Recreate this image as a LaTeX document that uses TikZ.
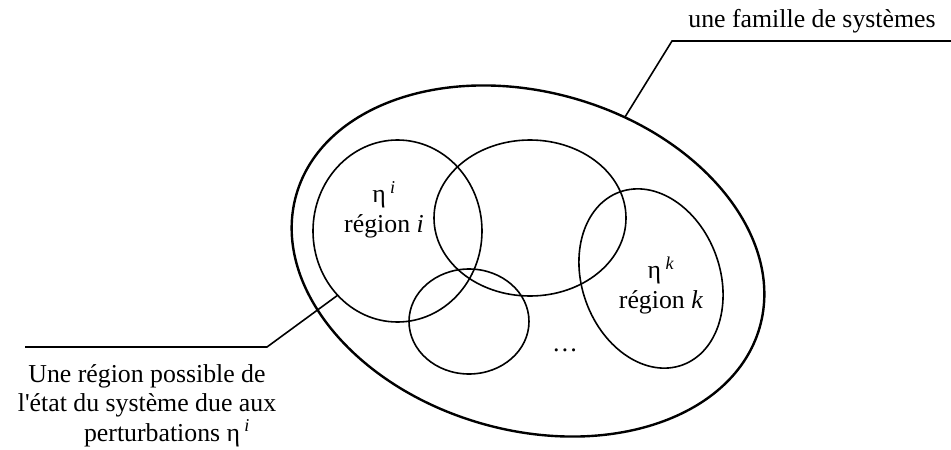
\documentclass[tikz,border=0pt]{standalone}
\usepackage{fontspec}
\setmainfont{Liberation Serif}
\begin{document}
\begin{tikzpicture}[x=1pt,y=-1pt,
  thinline/.style={line width=1.6pt},
  thickline/.style={line width=2.4pt},
  lbl/.style={inner sep=0pt,font=\fontsize{25.8}{29.5}\selectfont,align=center}]
\useasboundingbox (0,0) rectangle (951,450);
% outer family
\draw[thickline, rotate around={-16:(528,261)}] (528,261) ellipse [x radius=241pt, y radius=169pt];
% regions
\draw[thinline] (397.5,231) ellipse [x radius=84.5pt, y radius=91pt];
\draw[thinline] (530,218) ellipse [x radius=96pt, y radius=78pt];
\draw[thinline] (469,321.5) ellipse [x radius=60pt, y radius=52.5pt];
\draw[thinline, rotate around={20:(651,278.5)}] (651,278.5) ellipse [x radius=69pt, y radius=92pt];
% labels (base = baseline of last line)
\node[lbl, anchor=base] (ri) at (384,232) {η\,\textsuperscript{\textit{i}}\\région \textit{i}};
\node[lbl, anchor=base] (rk) at (661,308) {η\,\textsuperscript{\textit{k}}\\région \textit{k}};
\node[lbl, anchor=base] (dots) at (565,351) {\dots};
\node[lbl, anchor=base] (fam) at (812,27) {une famille de systèmes};
\node[lbl, anchor=base] (poss) at (147,441) {Une région possible de\\l\textquotesingle état du système due aux\\\hspace*{40pt}perturbations η\,\textsuperscript{\textit{i}}};
% leaders
\coordinate (famtouch) at (625,117);
\coordinate (famknee) at (672,41);
\coordinate (famend) at (951,41);
\draw[thinline] (famtouch) -- (famknee) -- (famend);
\coordinate (itouch) at (338,295);
\coordinate (iknee) at (267,347);
\coordinate (iend) at (25,347);
\draw[thinline] (itouch) -- (iknee) -- (iend);
\end{tikzpicture}
\end{document}
